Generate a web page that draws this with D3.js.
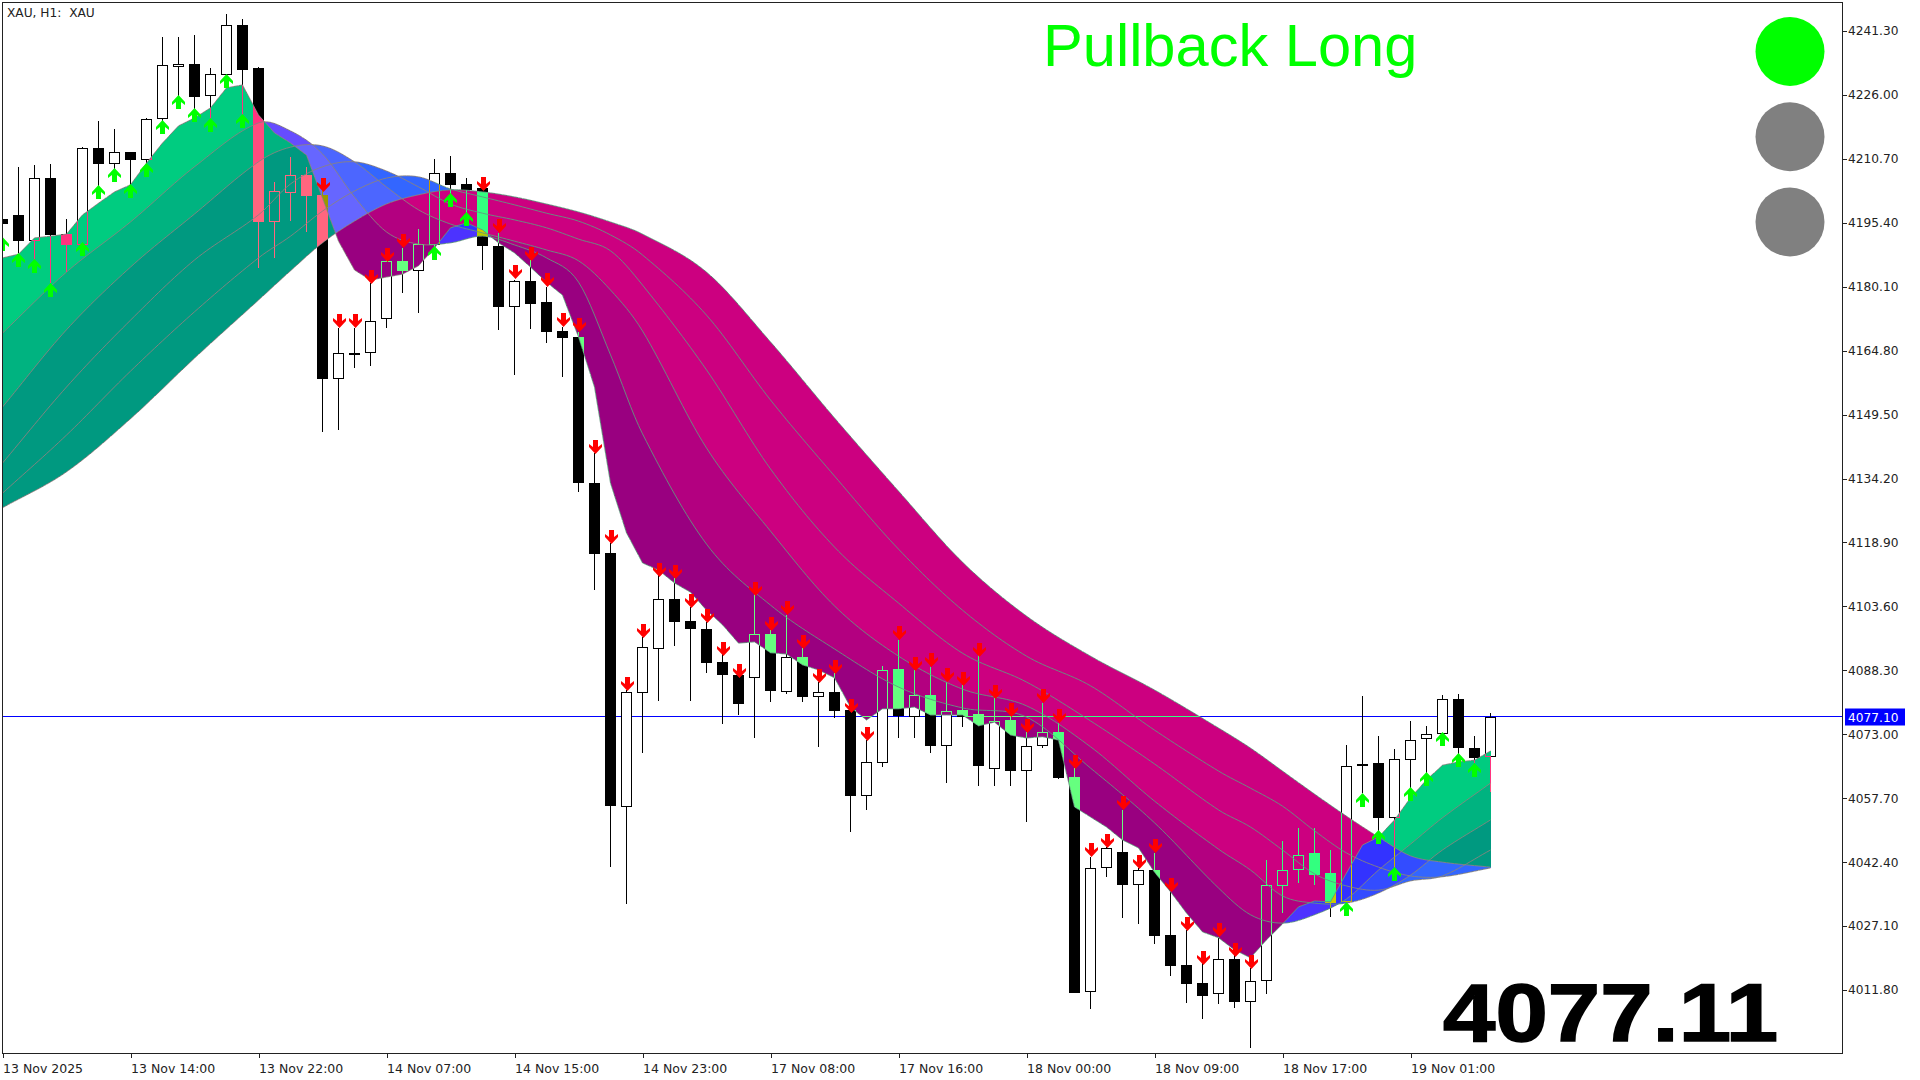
<!DOCTYPE html>
<html><head><meta charset="utf-8">
<script src="https://cdn.jsdelivr.net/npm/d3@7"></script>
<style>html,body{margin:0;padding:0;background:#fff;overflow:hidden}svg{display:block}</style>
</head><body><svg id="c" width="1920" height="1080"></svg>
<script>
const opens=[4196.3,4197.3,4191.0,4206.1,4192.7,4190.1,4213.3,4209.5,4212.3,4210.4,4220.2,4232.7,4233.4,4225.7,4230.8,4242.7,4232.4,4195.6,4202.5,4206.8,4202.1,4158.0,4164.3,4164.3,4172.4,4186.3,4183.9,4190.1,4207.3,4204.7,4203.7,4189.8,4175.3,4181.5,4176.5,4169.5,4168.1,4133.1,4116.4,4055.6,4082.9,4093.4,4105.4,4100.1,4098.2,4090.3,4087.2,4086.5,4097.0,4083.1,4091.5,4081.9,4083.1,4078.8,4058.2,4066.1,4088.6,4077.1,4082.4,4070.2,4078.8,4077.8,4064.7,4076.4,4064.2,4070.2,4073.5,4062.8,4011.3,4041.0,4044.8,4036.9,4040.5,4025.0,4017.8,4013.5,4010.8,4019.2,4008.9,4014.0,4036.7,4040.5,4044.6,4039.8,4032.9,4065.4,4066.1,4053.0,4066.8,4071.9,4073.1,4081.4,4069.7,4067.6];
const highs=[4198.9,4208.8,4209.2,4209.5,4196.3,4213.5,4219.8,4217.9,4212.3,4220.5,4239.9,4239.9,4240.3,4232.4,4245.4,4244.2,4232.7,4205.2,4211.1,4208.8,4203.3,4170.2,4170.2,4181.0,4186.5,4189.4,4193.9,4210.7,4211.4,4206.1,4204.5,4193.0,4181.7,4186.5,4180.0,4170.5,4169.3,4140.3,4118.8,4083.6,4096.3,4111.1,4110.4,4103.5,4099.9,4092.4,4087.2,4106.8,4097.9,4101.5,4093.6,4085.5,4087.7,4078.8,4071.6,4089.3,4095.6,4088.4,4089.1,4085.5,4084.8,4092.0,4081.7,4077.1,4073.5,4080.5,4075.7,4064.9,4043.6,4046.0,4054.9,4041.0,4044.6,4035.3,4026.2,4018.3,4024.5,4020.6,4017.1,4042.9,4047.5,4050.6,4050.6,4045.3,4070.4,4082.2,4072.6,4069.5,4076.2,4075.0,4082.4,4082.6,4072.6,4078.1];
const lows=[4191.3,4188.2,4186.5,4181.0,4183.6,4189.6,4203.3,4207.6,4204.5,4209.2,4219.5,4225.5,4222.4,4220.0,4230.1,4221.0,4184.6,4187.0,4195.8,4193.2,4145.3,4145.8,4160.7,4161.1,4170.2,4178.6,4173.8,4189.6,4202.1,4197.7,4184.1,4169.7,4159.0,4170.0,4166.6,4158.5,4131.0,4107.5,4041.2,4032.4,4068.5,4081.0,4094.1,4081.0,4087.7,4075.5,4077.6,4072.1,4080.7,4082.6,4080.7,4070.0,4076.9,4049.6,4054.9,4065.2,4072.1,4072.1,4068.5,4061.3,4074.7,4060.6,4060.6,4060.6,4052.0,4069.7,4062.3,4011.1,4007.3,4038.8,4029.0,4027.6,4022.8,4015.2,4008.7,4004.9,4008.4,4007.5,3997.9,4010.8,4030.2,4037.4,4036.9,4029.3,4032.6,4058.9,4049.4,4041.0,4060.1,4063.7,4072.8,4068.0,4066.1,4059.2];
const closes=[4195.1,4191.0,4206.1,4192.5,4190.1,4213.3,4209.5,4212.3,4210.4,4220.2,4233.2,4233.4,4225.5,4231.0,4242.7,4232.0,4195.6,4203.0,4206.8,4201.8,4158.0,4164.3,4163.8,4171.9,4186.3,4183.9,4190.3,4207.3,4204.5,4203.3,4189.8,4175.3,4181.5,4176.0,4169.3,4167.8,4133.1,4116.1,4055.8,4083.1,4093.9,4105.4,4099.9,4098.2,4090.1,4087.2,4080.2,4097.0,4083.3,4091.5,4081.9,4083.1,4078.6,4058.2,4066.4,4088.4,4077.4,4082.4,4070.2,4078.6,4077.1,4065.4,4076.2,4064.2,4070.2,4073.5,4062.5,4011.1,4041.0,4045.8,4036.9,4040.5,4024.7,4017.5,4013.2,4010.4,4019.2,4008.9,4014.0,4036.9,4040.5,4044.1,4039.3,4032.6,4065.4,4065.9,4053.0,4067.1,4071.6,4073.1,4081.4,4069.7,4067.3,4077.1];

// Fastest ribbon line, one value per bar
const fastLine=[4187.0,4187.9,4191.8,4192.2,4192.7,4197.3,4200.1,4202.8,4204.5,4209.7,4214.5,4218.6,4220.5,4222.9,4227.7,4228.4,4221.2,4216.9,4214.5,4211.6,4201.3,4191.0,4184.1,4181.7,4182.4,4183.1,4185.1,4189.4,4194.2,4195.4,4193.7,4190.6,4188.2,4184.8,4181.2,4178.1,4168.1,4156.1,4133.1,4121.2,4114.0,4112.3,4109.2,4107.0,4102.7,4099.2,4094.8,4095.1,4092.5,4092.2,4089.6,4088.4,4086.5,4079.5,4076.4,4079.1,4079.1,4079.5,4077.6,4077.6,4077.6,4075.0,4075.9,4072.8,4072.1,4072.4,4071.6,4055.6,4053.2,4050.8,4047.7,4045.8,4040.0,4035.3,4030.2,4025.7,4024.3,4021.4,4019.5,4023.8,4027.6,4031.7,4033.1,4032.9,4039.8,4046.5,4048.4,4052.5,4057.8,4062.1,4065.6,4066.4,4066.8,4069.0];
// Slower ribbon lines, read at these bars
const ribbonBars=[0,4,8,12,16,18,20,22,24,26,28,30,32,34,36,38,40,44,48,52,56,60,64,68,72,76,78,80,82,84,86,88,90,93];
const line1=[4169.0,4183.6,4195.6,4208.8,4219.3,4217.4,4211.9,4201.6,4193.2,4190.3,4190.6,4192.2,4190.1,4187.0,4181.2,4163.8,4144.9,4118.5,4103.9,4093.4,4084.3,4079.3,4077.1,4064.9,4051.8,4036.2,4029.8,4027.8,4029.8,4033.6,4040.5,4046.7,4053.0,4061.3];
const line2=[4151.3,4169.8,4184.8,4197.5,4210.0,4213.5,4213.8,4210.0,4204.0,4198.5,4195.1,4193.0,4191.0,4188.9,4186.3,4179.3,4169.5,4141.5,4121.6,4103.7,4091.7,4083.8,4079.8,4070.0,4057.0,4045.5,4040.5,4034.3,4032.6,4032.6,4035.0,4039.3,4045.3,4052.5];
const line3=[4137.9,4156.1,4172.1,4186.5,4197.3,4204.7,4208.8,4210.0,4207.8,4204.0,4199.9,4197.7,4196.1,4194.2,4191.5,4188.7,4180.5,4160.2,4136.5,4117.8,4104.4,4092.4,4085.5,4076.2,4065.9,4054.9,4050.8,4045.3,4039.6,4036.7,4035.7,4037.9,4039.1,4045.3];
const line4=[4130.7,4144.6,4159.9,4174.1,4187.0,4192.2,4198.2,4203.0,4206.1,4206.4,4203.5,4201.6,4199.7,4197.7,4195.8,4192.5,4187.7,4173.3,4153.0,4134.8,4117.3,4102.7,4091.7,4084.6,4074.0,4064.2,4060.1,4055.8,4049.9,4044.6,4041.2,4039.1,4038.9,4041.0];
const line5=[4127.2,4135.8,4148.5,4163.0,4176.9,4183.9,4190.6,4195.8,4199.9,4202.1,4203.3,4202.8,4201.6,4199.9,4198.0,4195.6,4192.7,4183.6,4166.9,4148.7,4131.2,4114.2,4101.3,4091.7,4083.6,4074.5,4069.7,4064.2,4058.7,4053.4,4048.4,4043.9,4042.4,4041.2];

const upArrowBars=[0,1,2,3,5,6,7,8,9,10,11,12,13,14,15,27,28,29,84,85,86,87,88,89,90,91,92];
const upArrowPrices=[4192.0,4188.2,4186.7,4181.0,4190.8,4204.5,4208.5,4204.7,4209.7,4220.0,4226.0,4222.9,4220.5,4231.0,4221.4,4189.8,4202.5,4198.0,4032.9,4059.0,4050.1,4041.2,4060.4,4064.0,4073.5,4068.5,4066.1];
const downArrowBars=[20,21,22,23,24,25,30,31,32,33,34,35,36,37,38,39,40,41,42,43,44,45,46,47,48,49,50,51,52,53,54,56,57,58,59,60,61,62,63,64,65,66,67,68,69,70,71,72,73,74,75,76,77,78];
const downArrowPrices=[4202.8,4170.2,4170.2,4180.8,4186.0,4189.4,4203.0,4193.0,4182.0,4186.3,4180.0,4170.5,4169.3,4140.1,4118.5,4083.3,4096.0,4110.6,4110.2,4103.2,4099.6,4091.7,4086.5,4106.1,4097.7,4101.5,4093.4,4085.3,4087.4,4078.1,4071.4,4095.6,4088.1,4089.1,4085.5,4084.6,4091.5,4081.4,4077.1,4073.3,4080.5,4075.7,4064.7,4043.6,4045.8,4054.9,4040.8,4044.6,4035.3,4025.9,4017.8,4024.5,4019.7,4016.8];

const priceTicks=[4241.30,4226.00,4210.70,4195.40,4180.10,4164.80,4149.50,4134.20,4118.90,4103.60,4088.30,4073.00,4057.70,4042.40,4027.10,4011.80];
const timeBars=[0,8,16,24,32,40,48,56,64,72,80,88];
const timeLabels=["13 Nov 2025","13 Nov 14:00","13 Nov 22:00","14 Nov 07:00","14 Nov 15:00","14 Nov 23:00","17 Nov 08:00","17 Nov 16:00","18 Nov 00:00","18 Nov 09:00","18 Nov 17:00","19 Nov 01:00"];
const lastPrice=4077.10;
const chartTitle="XAU, H1:  XAU";
const signalText="Pullback Long";
const bigPrice="4077.11";
const lampColors=["#00ff00","#808080","#808080"];
// ribbon band colours: index = band between line k and k+1
const bandUp=[0x00CC80,0x00B380,0x009980,0x009980,0x009980];
const bandDown=[0x990080,0xB30080,0xCC0080,0xCC0080,0xCC0080];

const FONT='"DejaVu Sans",sans-serif';
const x=d3.scaleLinear().domain([0,93]).range([2.5,1490.5]);
const y=d3.scaleLinear().domain([4241.3,4011.8]).range([31,990]);
const Y=p=>Math.round(y(p));
const svg=d3.select('#c');
svg.append('defs').append('clipPath').attr('id','plot').append('rect').attr('x',3).attr('y',3).attr('width',1839).attr('height',1050);
svg.append('rect').attr('width',1920).attr('height',1080).attr('fill','#fff');
const plot=svg.append('g').attr('clip-path','url(#plot)');
plot.append('rect').attr('x',0).attr('y',0).attr('width',1920).attr('height',1080).attr('fill','#fff');

// price line
plot.append('line').attr('x1',3).attr('x2',1842).attr('y1',Y(lastPrice)-0.5).attr('y2',Y(lastPrice)-0.5)
  .attr('stroke','#0000ff').attr('stroke-width',1).attr('shape-rendering','crispEdges');

// candles
const bars=d3.range(opens.length);
const cg=plot.append('g').attr('shape-rendering','crispEdges');
cg.selectAll('line.w').data(bars).join('line').attr('class','w')
  .attr('x1',i=>x(i)).attr('x2',i=>x(i))
  .attr('y1',i=>Y(highs[i])).attr('y2',i=>Y(lows[i]))
  .attr('stroke','#000').attr('stroke-width',1);
cg.selectAll('rect.b').data(bars).join('rect').attr('class','b')
  .each(function(i){
    const up=closes[i]>=opens[i];
    const t=Y(Math.max(opens[i],closes[i])),b=Y(Math.min(opens[i],closes[i]));
    const s=d3.select(this);
    if(up){s.attr('x',x(i)-5).attr('width',10).attr('y',t+0.5).attr('height',Math.max(1,b-t-1)).attr('fill','#fff').attr('stroke','#000').attr('stroke-width',1);}
    else{s.attr('x',x(i)-5.5).attr('width',11).attr('y',t).attr('height',Math.max(2,b-t)).attr('fill','#000');}
  });

// smooth rendering of the slower lines through their readings
function smooth(bs,vals){
  const n=bs.length;
  const m=vals.map((v,i)=>i===0?(vals[1]-v)/(bs[1]-bs[0]):i===n-1?(v-vals[n-2])/(bs[n-1]-bs[n-2]):(vals[i+1]-vals[i-1])/(bs[i+1]-bs[i-1]));
  return b=>{
    b=Math.max(bs[0],Math.min(bs[n-1],b));
    let i=d3.bisectRight(bs,b)-1; if(i>=n-1)i=n-2;
    const h=bs[i+1]-bs[i],t=(b-bs[i])/h,t2=t*t,t3=t2*t;
    return (2*t3-3*t2+1)*vals[i]+(t3-2*t2+t)*h*m[i]+(-2*t3+3*t2)*vals[i+1]+(t3-t2)*h*m[i+1];
  };
}
const fastFn=d3.scaleLinear().domain(bars).range(fastLine);
const scales=[fastFn].concat([line1,line2,line3,line4,line5].map(v=>smooth(ribbonBars,v)));

// ribbon: each band is XORed with what lies below, as the platform's filling does
const paths=new Map();
for(let px=3;px<=1490;px++){
  const b=x.invert(px+0.5);
  const ys=scales.map(s=>y(s(Math.max(0,Math.min(93,b)))));
  const breaks=Array.from(new Set(ys.map(Math.round))).sort((p,q)=>p-q);
  for(let j=0;j<breaks.length-1;j++){
    const a=breaks[j],e=breaks[j+1],m=(a+e)/2;
    let col=0xFFFFFF,n=0;
    for(let k=0;k<5;k++){
      const t=Math.round(Math.min(ys[k],ys[k+1])),u=Math.round(Math.max(ys[k],ys[k+1]));
      if(t<=m&&m<u){const c=ys[k]<ys[k+1]?bandUp[k]:bandDown[k];col^=(~c&0xFFFFFF);n++;}
    }
    if(!n)continue;
    const key=(~col&0xFFFFFF);  // drawn inverted, blended by difference
    if(!paths.has(key))paths.set(key,d3.path());
    paths.get(key).rect(px,a,1,e-a);
  }
}
const rg=plot.append('g');
for(const [key,p] of paths){
  rg.append('path').attr('d',p.toString()).attr('fill','#'+key.toString(16).padStart(6,'0'))
    .attr('shape-rendering','crispEdges').style('mix-blend-mode','difference');
}

// ribbon lines
scales.forEach(fn=>{
  const pts=d3.range(0,93*4+1).map(q=>q/4).map(b=>[b,fn(b)]);
  [[p=>p[0]<=27,'#8a8280'],[p=>p[0]>=27&&p[0]<=84,'#63967f'],[p=>p[0]>=84,'#87847f']].forEach(([f,col])=>{
    plot.append('path').attr('fill','none').attr('stroke',col).attr('stroke-width',0.9)
      .attr('d',d3.line().x(p=>x(p[0])).y(p=>y(p[1]))(pts.filter(f)));
  });
});

// arrows
const upShape="M0,0L6.5,7L6.5,10L2.5,7L2.5,14L-2.5,14L-2.5,7L-6.5,10L-6.5,7Z";
const downShape="M0,0L6.5,-7L6.5,-10L2.5,-7L2.5,-14L-2.5,-14L-2.5,-7L-6.5,-10L-6.5,-7Z";
plot.selectAll('path.ua').data(upArrowBars).join('path').attr('class','ua').attr('d',upShape).attr('fill','#00ff00')
  .attr('transform',(b,j)=>`translate(${x(b)},${Y(upArrowPrices[j])})`);
plot.selectAll('path.da').data(downArrowBars).join('path').attr('class','da').attr('d',downShape).attr('fill','#ff0000')
  .attr('transform',(b,j)=>`translate(${x(b)+1},${Y(downArrowPrices[j])})`);

// frame
svg.append('rect').attr('x',2.5).attr('y',2.5).attr('width',1839.5).attr('height',1050.5).attr('fill','none').attr('stroke','#222').attr('stroke-width',1).attr('shape-rendering','crispEdges');

// axes
const yAxis=d3.axisRight(y).tickValues(priceTicks).tickSize(5).tickPadding(1).tickFormat(d3.format('.2f'));
const ya=svg.append('g').attr('transform','translate(1842,0)').call(yAxis);
ya.select('.domain').remove();
ya.selectAll('line').attr('stroke','#222').attr('shape-rendering','crispEdges');
ya.selectAll('text').attr('font-family',FONT).attr('font-size',12.2).attr('fill','#222');
const xAxis=d3.axisBottom(x).tickValues(timeBars).tickSize(5).tickPadding(6).tickFormat((d,i)=>timeLabels[i]);
const xa=svg.append('g').attr('transform','translate(0,1053)').call(xAxis);
xa.select('.domain').remove();
xa.selectAll('line').attr('stroke','#222').attr('shape-rendering','crispEdges');
xa.selectAll('text').attr('font-family',FONT).attr('font-size',12.5).attr('fill','#222').attr('text-anchor','start').attr('dx',0);

// last price label
svg.append('rect').attr('x',1845).attr('y',Y(lastPrice)-8.5).attr('width',60).attr('height',17).attr('fill','#0000ff');
svg.append('text').attr('x',1848).attr('y',Y(lastPrice)+4.5).text(d3.format('.2f')(lastPrice))
  .attr('font-family',FONT).attr('font-size',12.2).attr('fill','#fff');

// titles and panels
svg.append('text').attr('x',7).attr('y',17).text(chartTitle).attr('xml:space','preserve').style('white-space','pre').attr('font-family',FONT).attr('font-size',12.2).attr('fill','#222');
svg.append('text').attr('x',1043).attr('y',66).text(signalText).attr('font-family','"Liberation Sans",sans-serif').attr('font-size',59.6).attr('fill','#00ff00');
svg.append('text').attr('transform','translate(1443,1041) scale(1.163,1)').text(bigPrice).attr('font-family','"Liberation Sans",sans-serif').attr('font-weight','bold').attr('font-size',81).attr('fill','#000').attr('stroke','#000').attr('stroke-width',1.5);
svg.selectAll('circle.lamp').data(lampColors).join('circle').attr('class','lamp').attr('cx',1790).attr('cy',(d,i)=>51.5+85.25*i).attr('r',34.5).attr('fill',d=>d);
</script></body></html>
